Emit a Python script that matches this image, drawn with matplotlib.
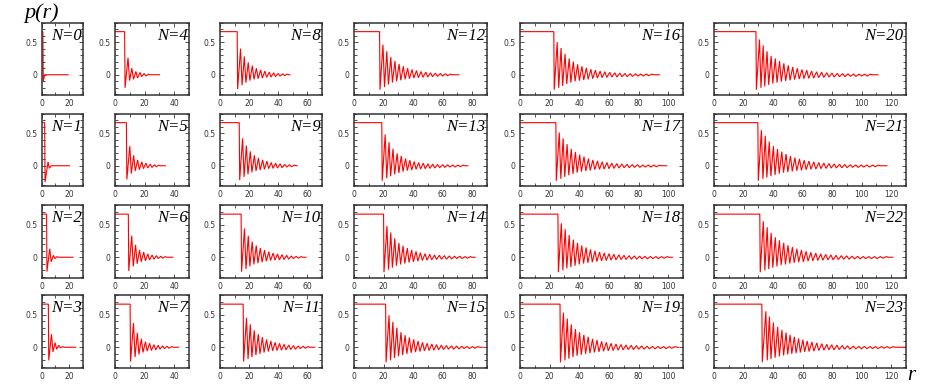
import matplotlib
matplotlib.use("Agg")
import matplotlib.pyplot as plt
from matplotlib.ticker import MultipleLocator, FixedLocator

# ---------------- data ----------------
PLATEAU = 0.66
N_VALUES = list(range(24))
DROP_R = [1.0, 2.3, 3.7, 5.0, 6.5, 7.7, 9.0, 10.2, 11.8, 13.2, 14.5, 15.9,
          17.3, 18.8, 20.0, 21.4, 22.8, 24.2, 25.6, 27.0, 28.4, 29.7, 31.0, 32.4]
END_R = [19.5, 20.5, 23, 25, 30, 34, 39, 43, 48, 53, 59, 65,
         71, 77, 82, 87, 94, 99, 103, 107, 111, 117, 121, 130]

PEAK_R = {
    0: [2.3],
    1: [4.8, 7.0],
    2: [6.0, 8.7, 11.4],
    3: [7.3, 10.0, 12.7, 15.4],
    4: [8.8, 11.4, 14.1, 16.9, 19.7, 22.6],
    5: [10.0, 12.6, 15.3, 18.1, 20.9, 23.8, 26.7, 29.6],
    6: [11.3, 13.9, 16.6, 19.4, 22.2, 25.1, 28.0, 31.0, 34.0],
    7: [12.5, 15.1, 17.8, 20.6, 23.4, 26.3, 29.2, 32.2, 35.2, 38.3],
    8: [14.1, 16.7, 19.4, 22.2, 25.0, 27.9, 30.8, 33.8, 36.8, 39.9, 43.1, 46.0],
    9: [15.5, 18.1, 20.8, 23.6, 26.4, 29.3, 32.2, 35.2, 38.2, 41.3, 44.5, 47.7, 51.0],
    10: [16.8, 19.4, 22.1, 24.9, 27.7, 30.6, 33.5, 36.5, 39.5, 42.6, 45.8, 49.0, 52.3, 55.7],
    11: [18.2, 20.8, 23.5, 26.3, 29.1, 32.0, 34.9, 37.9, 40.9, 44.0, 47.2, 50.4, 53.7, 57.1, 60.5],
    12: [19.6, 22.2, 24.9, 27.7, 30.5, 33.4, 36.3, 39.3, 42.3, 45.4, 48.6, 51.8, 55.1, 58.5, 61.9, 65.4],
    13: [21.1, 23.7, 26.4, 29.2, 32.0, 34.9, 37.8, 40.8, 43.8, 46.9, 50.1, 53.3, 56.6, 60.0, 63.4, 66.9, 70.4, 73.9],
    14: [22.3, 24.9, 27.6, 30.4, 33.2, 36.1, 39.0, 42.0, 45.0, 48.1, 51.3, 54.5, 57.8, 61.2, 64.6, 68.1, 71.6, 75.2, 78.8],
    15: [23.7, 26.3, 29.0, 31.8, 34.6, 37.5, 40.4, 43.4, 46.4, 49.5, 52.7, 55.9, 59.2, 62.6, 66.0, 69.5, 73.0, 76.6, 80.2, 83.9],
    16: [25.1, 27.7, 30.4, 33.2, 36.0, 38.9, 41.8, 44.8, 47.8, 50.9, 54.1, 57.3, 60.6, 64.0, 67.4, 70.9, 74.4, 78.0, 81.6, 85.3, 89.0],
    17: [26.5, 29.1, 31.8, 34.6, 37.4, 40.3, 43.2, 46.2, 49.2, 52.3, 55.5, 58.7, 62.0, 65.4, 68.8, 72.3, 75.8, 79.4, 83.0, 86.7, 90.4, 94.2],
    18: [27.9, 30.5, 33.2, 36.0, 38.8, 41.7, 44.6, 47.6, 50.6, 53.7, 56.9, 60.1, 63.4, 66.8, 70.2, 73.7, 77.2, 80.8, 84.4, 88.1, 91.8, 95.6, 99.4],
    19: [29.3, 31.9, 34.6, 37.4, 40.2, 43.1, 46.0, 49.0, 52.0, 55.1, 58.3, 61.5, 64.8, 68.2, 71.6, 75.1, 78.6, 82.2, 85.8, 89.5, 93.2, 97.0, 100.8, 104.7],
    20: [30.8, 33.3, 35.9, 38.7, 41.5, 44.4, 47.3, 50.3, 53.3, 56.4, 59.6, 62.8, 66.1, 69.5, 72.9, 76.4, 79.9, 83.5, 87.1, 90.8, 94.5, 98.3, 102.1, 106.0],
    21: [32.1, 34.7, 37.4, 40.2, 43.0, 45.9, 48.8, 51.8, 54.8, 57.9, 61.1, 64.3, 67.6, 71.0, 74.4, 77.9, 81.4, 85.0, 88.6, 92.3, 96.0, 99.8, 103.6, 107.5, 111.4],
    22: [33.4, 36.0, 38.7, 41.5, 44.3, 47.2, 50.1, 53.1, 56.1, 59.2, 62.4, 65.6, 68.9, 72.3, 75.7, 79.2, 82.7, 86.3, 89.9, 93.6, 97.3, 101.1, 104.9, 108.8, 112.7, 116.7],
    23: [35.1, 37.5, 40.2, 43.1, 46.0, 48.8, 51.5, 54.4, 57.3, 60.2, 63.1, 66.3, 69.6, 73.0, 76.4, 79.7, 83.3, 86.9, 90.4, 94.4, 98.2, 101.9, 105.8, 109.4, 113.5, 117.3, 121.3],
}

PEAK_P = {
    0: [0.0],
    1: [0.06, 0.0],
    2: [0.13, 0.03, 0.01],
    3: [0.20, 0.07, 0.03, 0.01],
    4: [0.26, 0.10, 0.05, 0.035, 0.02, 0.01],
    5: [0.30, 0.16, 0.09, 0.06, 0.04, 0.025, 0.015, 0.01],
    6: [0.33, 0.19, 0.11, 0.08, 0.05, 0.035, 0.025, 0.015, 0.01],
    7: [0.37, 0.22, 0.13, 0.085, 0.06, 0.04, 0.03, 0.02, 0.015, 0.01],
    8: [0.40, 0.28, 0.19, 0.14, 0.10, 0.075, 0.055, 0.04, 0.03, 0.02, 0.015, 0.01],
    9: [0.42, 0.31, 0.22, 0.16, 0.12, 0.09, 0.07, 0.05, 0.04, 0.03, 0.02, 0.015, 0.01],
    10: [0.44, 0.33, 0.24, 0.18, 0.14, 0.11, 0.085, 0.065, 0.05, 0.04, 0.03, 0.02, 0.015, 0.01],
    11: [0.45, 0.35, 0.26, 0.20, 0.155, 0.12, 0.095, 0.075, 0.06, 0.045, 0.035, 0.025, 0.02, 0.015, 0.01],
    12: [0.46, 0.36, 0.27, 0.21, 0.165, 0.13, 0.10, 0.08, 0.065, 0.05, 0.04, 0.03, 0.025, 0.02, 0.015, 0.01],
    13: [0.48, 0.36, 0.26, 0.19, 0.15, 0.11, 0.085, 0.065, 0.05, 0.04, 0.03, 0.025, 0.02, 0.015, 0.015, 0.01, 0.01, 0.01],
    14: [0.48, 0.38, 0.29, 0.22, 0.175, 0.14, 0.11, 0.09, 0.07, 0.055, 0.045, 0.035, 0.03, 0.025, 0.02, 0.015, 0.015, 0.01, 0.01],
    15: [0.49, 0.39, 0.30, 0.23, 0.185, 0.15, 0.12, 0.095, 0.075, 0.06, 0.05, 0.04, 0.033, 0.027, 0.022, 0.018, 0.015, 0.012, 0.01, 0.01],
    16: [0.50, 0.41, 0.32, 0.25, 0.20, 0.16, 0.13, 0.105, 0.085, 0.07, 0.055, 0.045, 0.037, 0.03, 0.025, 0.02, 0.017, 0.015, 0.012, 0.01, 0.01],
    17: [0.51, 0.42, 0.33, 0.26, 0.21, 0.17, 0.14, 0.11, 0.09, 0.075, 0.06, 0.05, 0.04, 0.033, 0.027, 0.022, 0.018, 0.015, 0.012, 0.01, 0.01, 0.01],
    18: [0.52, 0.43, 0.34, 0.27, 0.22, 0.18, 0.15, 0.12, 0.10, 0.08, 0.065, 0.055, 0.045, 0.037, 0.03, 0.025, 0.02, 0.017, 0.014, 0.012, 0.01, 0.01, 0.01],
    19: [0.53, 0.44, 0.35, 0.28, 0.23, 0.19, 0.16, 0.13, 0.11, 0.09, 0.075, 0.06, 0.05, 0.042, 0.035, 0.029, 0.024, 0.02, 0.017, 0.014, 0.012, 0.01, 0.01, 0.01],
    20: [0.54, 0.45, 0.36, 0.29, 0.25, 0.21, 0.175, 0.145, 0.12, 0.10, 0.08, 0.07, 0.057, 0.046, 0.038, 0.031, 0.026, 0.021, 0.018, 0.015, 0.012, 0.01, 0.01, 0.01],
    21: [0.545, 0.46, 0.37, 0.30, 0.255, 0.215, 0.18, 0.15, 0.125, 0.105, 0.085, 0.072, 0.06, 0.05, 0.041, 0.034, 0.028, 0.023, 0.019, 0.016, 0.013, 0.011, 0.01, 0.01, 0.01],
    22: [0.55, 0.46, 0.375, 0.305, 0.26, 0.22, 0.185, 0.155, 0.13, 0.11, 0.09, 0.075, 0.063, 0.052, 0.043, 0.036, 0.03, 0.025, 0.021, 0.017, 0.014, 0.012, 0.01, 0.01, 0.01, 0.01],
    23: [0.55, 0.47, 0.38, 0.31, 0.265, 0.225, 0.19, 0.16, 0.135, 0.115, 0.095, 0.08, 0.066, 0.055, 0.045, 0.038, 0.032, 0.027, 0.022, 0.018, 0.015, 0.012, 0.01, 0.01, 0.01, 0.01, 0.01],
}

TROUGH_P = {
    0: [-0.10],
    1: [-0.25, -0.04],
    2: [-0.22, -0.07, -0.02],
    3: [-0.20, -0.07, -0.03, -0.01],
    4: [-0.20, -0.09, -0.07, -0.05, -0.03, -0.02],
    5: [-0.21, -0.12, -0.08, -0.06, -0.045, -0.035, -0.025, -0.015],
    6: [-0.21, -0.14, -0.10, -0.07, -0.055, -0.04, -0.03, -0.02, -0.015],
    7: [-0.22, -0.15, -0.11, -0.08, -0.06, -0.05, -0.04, -0.03, -0.02, -0.015],
    8: [-0.22, -0.16, -0.12, -0.09, -0.07, -0.06, -0.05, -0.04, -0.035, -0.03, -0.02, -0.015],
    9: [-0.22, -0.17, -0.13, -0.10, -0.08, -0.065, -0.055, -0.045, -0.04, -0.035, -0.03, -0.02, -0.015],
    10: [-0.22, -0.18, -0.14, -0.11, -0.09, -0.075, -0.06, -0.05, -0.045, -0.04, -0.035, -0.03, -0.02, -0.015],
    11: [-0.22, -0.18, -0.15, -0.12, -0.10, -0.08, -0.065, -0.055, -0.05, -0.045, -0.04, -0.035, -0.03, -0.02, -0.015],
    12: [-0.23, -0.19, -0.15, -0.12, -0.10, -0.085, -0.07, -0.06, -0.05, -0.045, -0.04, -0.035, -0.03, -0.025, -0.02, -0.015],
    13: [-0.23, -0.19, -0.16, -0.13, -0.11, -0.09, -0.075, -0.065, -0.055, -0.05, -0.045, -0.04, -0.035, -0.03, -0.025, -0.02, -0.02, -0.015],
    14: [-0.23, -0.19, -0.16, -0.13, -0.11, -0.095, -0.08, -0.07, -0.06, -0.05, -0.045, -0.04, -0.035, -0.03, -0.03, -0.025, -0.02, -0.02, -0.015],
    15: [-0.23, -0.20, -0.165, -0.14, -0.12, -0.10, -0.085, -0.075, -0.065, -0.055, -0.05, -0.045, -0.04, -0.035, -0.03, -0.03, -0.025, -0.02, -0.02, -0.015],
    16: [-0.23, -0.20, -0.17, -0.14, -0.12, -0.10, -0.09, -0.08, -0.07, -0.06, -0.05, -0.045, -0.04, -0.035, -0.035, -0.03, -0.03, -0.025, -0.02, -0.02, -0.015],
    17: [-0.23, -0.20, -0.17, -0.145, -0.125, -0.105, -0.09, -0.08, -0.07, -0.06, -0.055, -0.05, -0.045, -0.04, -0.035, -0.03, -0.03, -0.025, -0.025, -0.02, -0.02, -0.015],
    18: [-0.23, -0.20, -0.17, -0.15, -0.13, -0.11, -0.095, -0.085, -0.075, -0.065, -0.055, -0.05, -0.045, -0.04, -0.035, -0.035, -0.03, -0.03, -0.025, -0.025, -0.02, -0.02, -0.015],
    19: [-0.23, -0.20, -0.175, -0.15, -0.13, -0.115, -0.10, -0.09, -0.08, -0.07, -0.06, -0.055, -0.05, -0.045, -0.04, -0.035, -0.035, -0.03, -0.03, -0.025, -0.025, -0.02, -0.02, -0.015],
    20: [-0.23, -0.20, -0.18, -0.155, -0.135, -0.12, -0.105, -0.095, -0.085, -0.075, -0.065, -0.06, -0.055, -0.05, -0.045, -0.04, -0.035, -0.035, -0.03, -0.03, -0.025, -0.025, -0.02, -0.02],
    21: [-0.23, -0.20, -0.18, -0.16, -0.14, -0.12, -0.105, -0.095, -0.085, -0.075, -0.07, -0.06, -0.055, -0.05, -0.045, -0.04, -0.035, -0.035, -0.03, -0.03, -0.025, -0.025, -0.02, -0.02, -0.015],
    22: [-0.23, -0.20, -0.18, -0.16, -0.14, -0.12, -0.11, -0.095, -0.085, -0.075, -0.07, -0.06, -0.055, -0.05, -0.045, -0.04, -0.04, -0.035, -0.03, -0.03, -0.025, -0.025, -0.02, -0.02, -0.02, -0.015],
    23: [-0.23, -0.20, -0.18, -0.16, -0.14, -0.125, -0.11, -0.10, -0.09, -0.08, -0.07, -0.065, -0.06, -0.05, -0.045, -0.04, -0.04, -0.035, -0.03, -0.03, -0.025, -0.025, -0.02, -0.02, -0.02, -0.015, -0.015],
}

COL_XMAX = [30, 50, 70, 90, 110, 130]

# ---------------- layout (pixels) ----------------
W, H = 926, 387
COLS_PX = [(41.5, 82.5), (115, 189), (220, 322), (354, 487), (520, 683), (714, 906)]
ROWS_PX = [(22.5, 95), (113.5, 186), (205, 277.5), (295, 367.5)]
YLIM = (-0.31, 0.80)
SERIF = ["Liberation Serif", "DejaVu Serif"]
SPINE = "#333333"


def curve(n):
    r0 = DROP_R[n]
    pr, ph, tr = PEAK_R[n], PEAK_P[n], TROUGH_P[n]
    xs, ys = [0.0, r0], [PLATEAU, PLATEAU]
    for k in range(len(pr)):
        if k == 0:
            tx = r0 + 0.3
        else:
            tx = pr[k - 1] + 0.4 * (pr[k] - pr[k - 1])
        xs += [tx, pr[k]]
        ys += [tr[k], ph[k]]
    xs += [pr[-1] + 1.0, END_R[n]]
    ys += [0.0, 0.0]
    return xs, ys


fig = plt.figure(figsize=(W / 100, H / 100), dpi=100)

for n in N_VALUES:
    col, row = n // 4, n % 4
    x0, x1 = COLS_PX[col]
    y0, y1 = ROWS_PX[row]
    ax = fig.add_axes([x0 / W, 1 - y1 / H, (x1 - x0) / W, (y1 - y0) / H])
    xs, ys = curve(n)
    ax.plot(xs, ys, color="#ff0000", lw=0.8, solid_joinstyle="miter")
    ax.set_xlim(0, COL_XMAX[col])
    ax.set_ylim(*YLIM)
    ax.xaxis.set_major_locator(MultipleLocator(20))
    ax.xaxis.set_minor_locator(MultipleLocator(10))
    ax.yaxis.set_major_locator(FixedLocator([0, 0.5]))
    ax.yaxis.set_minor_locator(MultipleLocator(0.1))
    ax.set_yticklabels(["0", "0.5"])
    ax.tick_params(which="both", direction="in", top=True, right=True,
                   labelsize=5.5, colors=SPINE, pad=3, width=0.6)
    ax.tick_params(which="major", length=3)
    ax.tick_params(which="minor", length=2)
    for s in ax.spines.values():
        s.set_color(SPINE)
        s.set_linewidth(1.1)
    ax.text(0.985, 0.93, f"N={n}", transform=ax.transAxes, ha="right", va="top",
            fontsize=12, style="italic", family=SERIF, color="black")

fig.text(24 / W, 1 - 18 / H, "p(r)", fontsize=16, style="italic", family=SERIF,
         ha="left", va="baseline")
fig.text(907 / W, 1 - 380 / H, "r", fontsize=15, style="italic", family=SERIF,
         ha="left", va="baseline")

fig.savefig("out.png", dpi=100)
